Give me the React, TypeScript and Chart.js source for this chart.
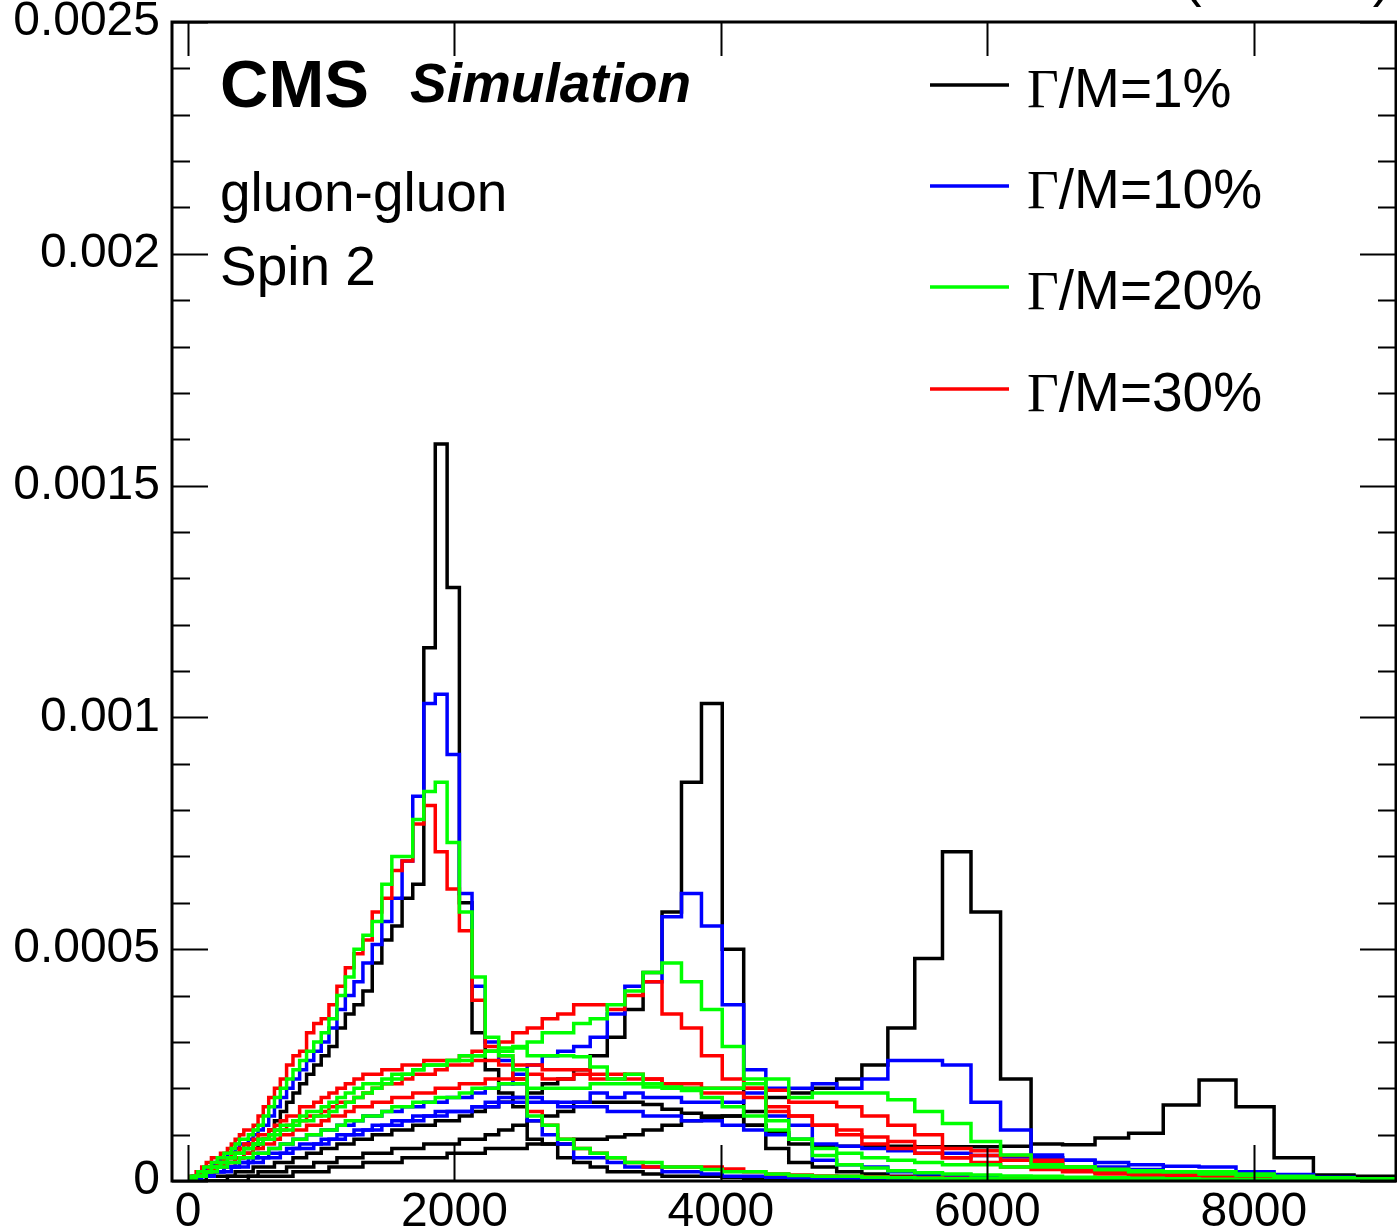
import React, { useEffect, useRef } from "react";
import { Chart, registerables } from "chart.js";

Chart.register(...registerables);

// values below are in units of 1e-5 (probability density per GeV)
const UNIT = 1e-5;

// dijet mass bin edges (GeV)
const BIN_EDGES = [
  1, 3, 6, 10, 16, 23, 31, 40, 50, 61, 74, 88, 103, 119, 137, 156, 176, 197, 220, 244,
  270, 296, 325, 354, 386, 419, 453, 489, 526, 565, 606, 649, 693, 740, 788, 838, 890, 944, 1000, 1058,
  1118, 1181, 1246, 1313, 1383, 1455, 1530, 1607, 1687, 1770, 1856, 1945, 2037, 2132, 2231, 2332, 2438, 2546, 2659, 2775,
  2895, 3019, 3147, 3279, 3416, 3558, 3704, 3854, 4010, 4171, 4337, 4509, 4686, 4869, 5058, 5253, 5455, 5663, 5877, 6099,
  6328, 6564, 6808, 7060, 7320, 7589, 7866, 8152, 8447, 8752, 9067,
];

const X_TICKS = [0, 2000, 4000, 6000, 8000];
const Y_TICKS = [0, 0.0005, 0.001, 0.0015, 0.002, 0.0025];

// ---- M = 2000 GeV ----
const M2000_W1 = [
  0, 0, 0, 0, 0, 0, 0, 1, 1, 1,
  1, 1, 2, 2, 2, 2, 3, 3, 3, 3,
  3, 4, 4, 5, 5, 6, 6, 7, 8, 9,
  11, 13, 15, 17, 19, 21, 23, 25, 27, 29,
  33, 36, 38, 41, 47, 52, 55, 61, 64, 115,
  159, 128, 60, 32, 24, 19, 16, 9, 8, 5,
  4, 3, 2, 2, 1.5, 1, 1, 1, 0.8, 0.6,
  0.5, 0.4, 0.3, 0.3, 0.2, 0.2, 0.1, 0.1, 0.1, 0.1,
  0, 0, 0, 0, 0, 0, 0, 0, 0, 0,
];
const M2000_W10 = [
  0, 0, 0, 0, 0, 0, 1, 1, 1, 1,
  1, 2, 2, 2, 3, 3, 3, 4, 4, 5,
  5, 6, 6, 7, 8, 8, 9, 10, 11, 12,
  14, 16, 18, 20, 22, 24, 26, 28, 30, 33,
  37, 40, 43, 47, 51, 56, 61, 69, 83, 103,
  105, 92, 62, 42, 30, 26, 21, 13, 10, 8,
  5, 5, 4, 3, 3, 2, 2, 1.5, 1, 1,
  0.8, 0.7, 0.6, 0.5, 0.5, 0.4, 0.3, 0.3, 0.2, 0.2,
  0.2, 0.1, 0.1, 0.1, 0.1, 0, 0, 0, 0, 0,
];
const M2000_W20 = [
  0, 0, 0, 0, 0, 1, 1, 1, 1, 1,
  2, 2, 2, 3, 3, 3, 4, 4, 5, 5,
  6, 6, 7, 8, 9, 9, 10, 11, 12, 14,
  16, 18, 20, 22, 24, 26, 28, 30, 32, 35,
  40, 44, 50, 53, 56, 64, 70, 70, 78, 84,
  86, 73, 58, 44, 31, 27, 24, 14, 12, 9,
  7, 6, 5, 4, 4, 3, 3, 2.5, 2, 2,
  1.5, 1.2, 1, 1, 0.8, 0.7, 0.6, 0.5, 0.5, 0.4,
  0.4, 0.3, 0.3, 0.2, 0.2, 0.2, 0.1, 0.1, 0.1, 0.1,
];
const M2000_W30 = [
  0, 0, 0, 0, 0, 1, 1, 1, 1, 2,
  2, 2, 3, 3, 4, 4, 5, 5, 5, 6,
  6, 7, 8, 9, 10, 11, 11, 12, 14, 16,
  18, 20, 22, 25, 27, 28, 32, 34, 35, 38,
  42, 46, 49, 52, 58, 61, 67, 69, 77, 81,
  71, 63, 54, 39, 29, 27, 22, 15, 12, 9,
  7, 6, 5, 4, 3, 3, 3, 3, 2.6, 2,
  1.5, 1.3, 1.1, 1, 0.9, 0.8, 0.7, 0.6, 0.5, 0.5,
  0.4, 0.4, 0.3, 0.3, 0.2, 0.2, 0.2, 0.1, 0.1, 0.1,
];

// ---- M = 4000 GeV ----
const M4000_W1 = [
  0, 0, 0, 0, 0, 0, 0, 0, 0, 0,
  0, 0, 0, 0, 1, 1, 1, 1, 1, 1,
  1, 1, 1, 2, 2, 2, 2, 3, 3, 3,
  3, 4, 4, 4, 5, 5, 6, 6, 7, 7,
  8, 8, 9, 9, 10, 10, 11, 11, 12, 12,
  13, 13, 14, 15, 16, 17, 18, 19, 21, 22,
  24, 27, 31, 37, 45, 58, 86, 103, 50, 12,
  7, 4, 3, 2, 1.5, 1, 1, 0.8, 0.6, 0.5,
  0.4, 0.3, 0.2, 0.2, 0.1, 0.1, 0, 0, 0, 0,
];
const M4000_W10 = [
  0, 0, 0, 0, 0, 0, 0, 0, 0, 0,
  0, 1, 1, 1, 1, 1, 2, 2, 2, 2,
  3, 3, 3, 4, 4, 4, 5, 5, 6, 6,
  7, 7, 8, 8, 9, 9, 10, 10, 11, 11,
  12, 12, 13, 14, 14, 15, 15, 16, 16, 17,
  17, 18, 18, 19, 20, 21, 23, 25, 27, 28,
  29, 31, 36, 42, 43, 57, 62, 55, 38, 24,
  14, 12, 4.5, 3.5, 3, 2, 1.5, 1.2, 1, 0.8,
  0.6, 0.5, 0.4, 0.3, 0.3, 0.2, 0.2, 0.1, 0.1, 0.1,
];
const M4000_W20 = [
  0, 0, 0, 0, 0, 0, 0, 0, 1, 1,
  1, 1, 1, 2, 2, 2, 3, 3, 3, 4,
  4, 5, 5, 6, 6, 7, 7, 8, 9, 9,
  10, 11, 12, 12, 13, 14, 15, 15, 16, 17,
  18, 19, 20, 21, 21, 22, 23, 23, 24, 25,
  25, 26, 26, 27, 28, 28, 29, 30, 32, 32,
  34, 35, 38, 41, 45, 47, 43, 37, 29, 22,
  13, 9, 5.5, 3.5, 2.8, 2.2, 1.8, 1.5, 1.3, 1.1,
  1, 0.8, 0.7, 0.6, 0.5, 0.4, 0.3, 0.3, 0.2, 0.2,
];
const M4000_W30 = [
  0, 0, 0, 0, 0, 0, 0, 0, 1, 1,
  1, 1, 2, 2, 2, 3, 3, 3, 4, 4,
  5, 5, 6, 6, 7, 8, 8, 9, 10, 10,
  11, 12, 13, 14, 14, 16, 16, 17, 18, 19,
  20, 21, 22, 23, 23, 24, 24, 25, 25, 26,
  26, 26, 27, 28, 28, 30, 32, 33, 35, 36,
  38, 38, 37, 40, 43, 36, 33, 27, 22, 20,
  16, 14, 12, 10, 8, 7, 6, 5, 4, 3,
  2.5, 2, 1.5, 1.2, 1, 0.8, 0.7, 0.5, 0.4, 0.3,
];

// ---- M = 6000 GeV ----
const M6000_W1 = [
  0, 0, 0, 0, 0, 0, 0, 0, 0, 0,
  0, 0, 0, 0, 0, 0, 0, 0, 0, 0,
  0, 1, 1, 1, 1, 1, 1, 1, 2, 2,
  2, 2, 2, 3, 3, 3, 3, 4, 4, 4,
  5, 5, 5, 6, 6, 6, 7, 7, 7, 8,
  8, 8, 9, 9, 10, 11, 12, 13, 14, 15,
  17, 17, 17, 17, 16.5, 15.5, 14.6, 14, 14, 15,
  18, 19, 20, 22, 25, 33, 48, 71, 58, 22,
  5, 3, 2, 1.5, 1, 0.8, 0.5, 0.4, 0.3, 0.2,
];
const M6000_W10 = [
  0, 0, 0, 0, 0, 0, 0, 0, 0, 0,
  0, 0, 1, 1, 1, 1, 1, 2, 2, 2,
  2, 2, 3, 3, 3, 3, 4, 4, 4, 5,
  5, 5, 6, 6, 7, 7, 7, 8, 8, 9,
  9, 10, 10, 11, 11, 12, 12, 13, 13, 14,
  14, 15, 15, 16, 17, 18, 18, 18, 17, 17,
  17, 19, 18, 19, 18, 18, 17, 17, 17, 19,
  20, 20, 21, 20, 22, 26, 26, 25, 17, 11,
  5.6, 4.5, 3, 2.5, 2, 1.6, 1.2, 0.8, 0.5, 0.4,
];
const M6000_W20 = [
  0, 0, 0, 0, 0, 0, 0, 0, 0, 1,
  1, 1, 1, 1, 2, 2, 2, 2, 3, 3,
  3, 4, 4, 4, 5, 5, 5, 6, 6, 6,
  7, 7, 8, 8, 9, 9, 10, 10, 11, 11,
  12, 13, 13, 14, 14, 15, 16, 16, 17, 17,
  18, 18, 19, 20, 20, 21, 21, 20, 20, 20,
  20, 21, 21, 21, 21, 20, 20, 20, 20, 21,
  22, 18, 19, 19, 19, 17.5, 15, 12.4, 8.5, 5.6,
  3.5, 3, 2.5, 2, 2, 1.5, 1.2, 0.8, 0.6, 0.5,
];
const M6000_W30 = [
  0, 0, 0, 0, 0, 0, 0, 0, 0, 1,
  1, 1, 1, 2, 2, 2, 2, 3, 3, 3,
  4, 4, 4, 5, 5, 6, 6, 7, 7, 8,
  8, 9, 10, 10, 11, 11, 12, 12, 13, 14,
  14, 15, 16, 16, 17, 17, 18, 18, 19, 19,
  20, 20, 21, 21, 22, 22, 22, 23, 22, 22,
  23, 22, 22, 23, 22, 21, 21, 20, 20, 20,
  19.6, 17, 17, 16, 14, 12, 10, 5, 5.5, 4.5,
  4, 3, 2.5, 2, 1.5, 1.2, 1, 0.7, 0.5, 0.4,
];

// ---- M = 8000 GeV ----
const M8000_W1 = [
  0, 0, 0, 0, 0, 0, 0, 0, 0, 0,
  0, 0, 0, 0, 0, 0, 0, 0, 0, 0,
  0, 0, 0, 0, 0, 0, 1, 1, 1, 1,
  1, 1, 1, 1, 2, 2, 2, 2, 2, 3,
  3, 3, 3, 4, 4, 4, 4, 5, 5, 5,
  5, 6, 6, 6, 7, 7, 7, 8, 8, 8,
  9, 9, 9.5, 10, 11, 12, 13, 13.5, 14, 12,
  10.4, 8, 7.5, 7.5, 7.5, 7.5, 7.4, 7.4, 7.4, 7.5,
  8, 7.8, 9.3, 10.3, 16.4, 21.8, 16, 5, 1.3, 1,
];
const M8000_W10 = [
  0, 0, 0, 0, 0, 0, 0, 0, 0, 0,
  0, 1, 1, 1, 1, 1, 2, 2, 2, 2,
  3, 3, 3, 3, 4, 4, 4, 5, 5, 5,
  6, 6, 6, 7, 7, 8, 8, 8, 9, 9,
  10, 10, 11, 11, 12, 12, 13, 13, 14, 14,
  15, 15, 15, 16, 16, 17, 17, 17, 17, 16,
  16, 16, 15, 15, 14, 14, 13, 13, 12, 11,
  10, 9, 8, 7.5, 7, 6.5, 6, 6, 5.5, 5.2,
  5, 4.5, 4, 3.5, 3.2, 3, 2, 1.4, 0.8, 0.5,
];
const M8000_W20 = [
  0, 0, 0, 0, 0, 0, 0, 0, 1, 1,
  1, 1, 1, 2, 2, 2, 3, 3, 3, 4,
  4, 5, 5, 6, 6, 7, 7, 8, 8, 9,
  9, 10, 11, 11, 12, 13, 13, 14, 14, 15,
  16, 17, 18, 19, 20, 21, 22, 23, 24, 25,
  25, 26, 27, 27, 28, 28.7, 28.7, 27, 27, 27,
  26.8, 24.6, 22, 23, 20.3, 20.3, 19.5, 18, 16, 14,
  11, 9, 7, 6, 5, 4.5, 4, 3.5, 3.5, 3,
  3, 3, 2.5, 2.2, 2, 2, 1.5, 1, 0.7, 0.5,
];
const M8000_W30 = [
  0, 0, 0, 0, 0, 0, 0, 1, 1, 1,
  1, 1, 2, 2, 2, 3, 3, 3, 4, 4,
  5, 5, 6, 6, 7, 7, 8, 8, 9, 9,
  10, 11, 11, 12, 13, 13, 14, 14, 15, 16,
  17, 17, 18, 19, 20, 21, 21, 22, 23, 23,
  24, 25, 25, 26, 26, 25, 25, 25, 24, 24,
  24, 23, 23, 22, 22, 21, 20, 19, 19, 18,
  15, 14, 12, 11, 9.5, 8.5, 7.2, 7, 6.5, 5.5,
  4.5, 2.4, 1.9, 1.5, 1.3, 1.2, 1, 0.8, 0.6, 0.5,
];

const WIDTH_LABELS = ["1%", "10%", "20%", "30%"];
const WIDTH_COLORS = ["#000000", "#0000ff", "#00ff00", "#ff0000"];
// drawing weight: lower order is drawn on top
const WIDTH_ORDER = [3, 2, 0, 1];

const SERIES_BY_WIDTH = [
  [M2000_W1, M4000_W1, M6000_W1, M8000_W1],
  [M2000_W10, M4000_W10, M6000_W10, M8000_W10],
  [M2000_W20, M4000_W20, M6000_W20, M8000_W20],
  [M2000_W30, M4000_W30, M6000_W30, M8000_W30],
];

const SANS = "'Liberation Sans', Arial, Helvetica, sans-serif";
const SERIF = "'Liberation Serif', 'Times New Roman', serif";

function histPoints(values: number[]) {
  const pts = [{ x: BIN_EDGES[0], y: 0 }];
  values.forEach((v, i) => pts.push({ x: BIN_EDGES[i], y: v * UNIT }));
  pts.push({ x: BIN_EDGES[values.length], y: values[values.length - 1] * UNIT });
  return pts;
}

const decorPlugin = {
  id: "rootDecor",
  afterDraw(chart: any) {
    const ctx = chart.ctx as CanvasRenderingContext2D;
    const { left, right, top, bottom } = chart.chartArea;
    const xs = chart.scales.x;
    const ys = chart.scales.y;
    ctx.save();
    ctx.strokeStyle = "#000";
    ctx.lineWidth = 2;
    ctx.beginPath();
    // y major + minor ticks (inside, both sides)
    for (let k = 0; k <= 25; k++) {
      const v = k * 0.0001;
      const y = Math.round(ys.getPixelForValue(v)) + 0.5;
      const len = k % 5 === 0 ? 36 : 18;
      ctx.moveTo(left, y);
      ctx.lineTo(left + len, y);
      ctx.moveTo(right, y);
      ctx.lineTo(right - len, y);
    }
    // x major ticks (inside, bottom and top)
    for (const t of xs.ticks) {
      const x = Math.round(xs.getPixelForValue(t.value)) + 0.5;
      ctx.moveTo(x, bottom);
      ctx.lineTo(x, bottom - 36);
      ctx.moveTo(x, top);
      ctx.lineTo(x, top + 34);
    }
    ctx.stroke();
    // frame
    ctx.lineWidth = 3;
    ctx.strokeRect(left, top, right - left, bottom - top);

    // texts
    ctx.fillStyle = "#000";
    ctx.textAlign = "left";
    ctx.textBaseline = "alphabetic";
    ctx.font = `bold 67px ${SANS}`;
    ctx.fillText("CMS", 220, 107);
    ctx.font = `italic bold 55px ${SANS}`;
    ctx.fillText("Simulation", 410, 102);
    ctx.font = `55px ${SANS}`;
    ctx.fillText("gluon-gluon", 220, 211);
    ctx.fillText("Spin 2", 220, 285);

    ctx.textAlign = "right";
    ctx.font = `55px ${SANS}`;
    ctx.fillText("(13 TeV)", 1391, -5);

    // legend
    ctx.textAlign = "left";
    const legendY = [85, 186, 287, 389];
    WIDTH_LABELS.forEach((lab, i) => {
      const y = legendY[i];
      ctx.strokeStyle = WIDTH_COLORS[i];
      ctx.lineWidth = 3.5;
      ctx.beginPath();
      ctx.moveTo(930, y);
      ctx.lineTo(1009, y);
      ctx.stroke();
      ctx.fillStyle = "#000";
      ctx.font = `55px ${SERIF}`;
      ctx.fillText("\u0393", 1027, y + 22);
      const gw = ctx.measureText("\u0393").width;
      ctx.font = `55px ${SANS}`;
      ctx.fillText("/M=" + lab, 1027 + gw, y + 22);
    });
    ctx.restore();
  },
};

export default function App() {
  const canvasRef = useRef<HTMLCanvasElement | null>(null);

  useEffect(() => {
    document.body.style.margin = "0";
    const canvas = canvasRef.current;
    if (!canvas) return;

    const datasets: any[] = [];
    SERIES_BY_WIDTH.forEach((group, wi) => {
      group.forEach((values, mi) => {
        datasets.push({
          label: `${WIDTH_LABELS[wi]} M${(mi + 1) * 2000}`,
          data: histPoints(values),
          borderColor: WIDTH_COLORS[wi],
          backgroundColor: WIDTH_COLORS[wi],
          borderWidth: 3.5,
          pointRadius: 0,
          stepped: "before",
          fill: false,
          tension: 0,
          borderJoinStyle: "miter",
          borderCapStyle: "butt",
          order: WIDTH_ORDER[wi],
        });
      });
    });

    const tickFont = { family: SANS, size: 48, lineHeight: 1.0 };

    const chart = new Chart(canvas, {
      type: "line",
      data: { datasets },
      options: {
        responsive: false,
        devicePixelRatio: 1,
        animation: false,
        events: [],
        layout: { padding: { top: 22, right: 1, left: 0, bottom: 0 } },
        plugins: { legend: { display: false }, tooltip: { enabled: false } },
        scales: {
          x: {
            type: "linear",
            min: -120,
            max: 9067,
            grid: { display: false, drawTicks: false },
            border: { display: false },
            afterBuildTicks: (s: any) => {
              s.ticks = X_TICKS.map((v) => ({ value: v }));
            },
            afterFit: (s: any) => {
              s.height = 50;
              s.paddingLeft = 0;
              s.paddingRight = 0;
            },
            ticks: {
              color: "#000",
              font: tickFont,
              padding: 8,
              maxRotation: 0,
              autoSkip: false,
              callback: (v: any) => String(v),
            },
          },
          y: {
            type: "linear",
            min: 0,
            max: 0.0025,
            grid: { display: false, drawTicks: false },
            border: { display: false },
            afterBuildTicks: (s: any) => {
              s.ticks = Y_TICKS.map((v) => ({ value: v }));
            },
            afterFit: (s: any) => {
              s.width = 172;
              s.paddingTop = 0;
              s.paddingBottom = 0;
            },
            ticks: {
              color: "#000",
              font: tickFont,
              padding: 12,
              autoSkip: false,
              callback: (v: any) => String(parseFloat(Number(v).toFixed(4))),
            },
          },
        },
      },
      plugins: [decorPlugin],
    });

    return () => chart.destroy();
  }, []);

  return (
    <div style={{ width: 1397, height: 1231 }}>
      <canvas ref={canvasRef} width={1397} height={1231} style={{ display: "block" }} />
    </div>
  );
}
